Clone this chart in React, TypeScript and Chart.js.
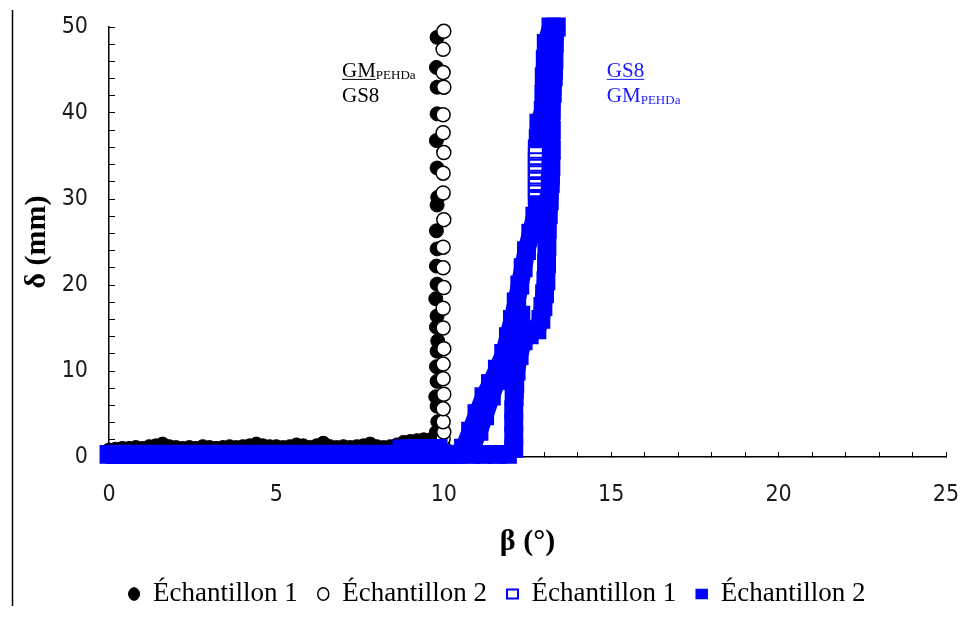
import React, { useEffect, useRef } from "react";
import { Chart, registerables } from "chart.js";

Chart.register(...registerables);

type Pt = [number, number];

// ---- axis ticks ----
const xTickLabels = [0, 5, 10, 15, 20, 25];
const yTickLabels = [0, 10, 20, 30, 40, 50];

// ---- legend labels ----
const seriesNames = ["Échantillon 1", "Échantillon 2", "Échantillon 1", "Échantillon 2"];

// ---- GM PEHDa / GS8 : Échantillon 1 (filled black circles) ----
const gmEch1Bottom: Pt[] = [
  [0.0, 0.8], [0.2, 0.9], [0.4, 1.0], [0.6, 1.0], [0.8, 1.1], [1.0, 1.0], [1.2, 1.2], [1.4, 1.3],
  [1.6, 1.5], [1.8, 1.2], [2.0, 1.1], [2.2, 1.0], [2.4, 1.1], [2.6, 1.0], [2.8, 1.2], [3.0, 1.1],
  [3.2, 1.0], [3.4, 1.1], [3.6, 1.2], [3.8, 1.1], [4.0, 1.2], [4.2, 1.3], [4.4, 1.5], [4.6, 1.3],
  [4.8, 1.2], [5.0, 1.2], [5.2, 1.1], [5.4, 1.2], [5.6, 1.4], [5.8, 1.3], [6.0, 1.1], [6.2, 1.3],
  [6.4, 1.6], [6.6, 1.2], [6.8, 1.1], [7.0, 1.2], [7.2, 1.1], [7.4, 1.2], [7.6, 1.3], [7.8, 1.5],
  [8.0, 1.2], [8.2, 1.1], [8.4, 1.2], [8.6, 1.4], [8.8, 1.7], [9.0, 1.8], [9.2, 1.9], [9.4, 2.0],
  [9.6, 2.0],
];
const gmEch1Column: Pt[] = [
  [9.8, 2.1], [9.78, 2.9], [9.82, 4.1], [9.8, 5.9], [9.76, 7.0], [9.8, 8.8], [9.78, 10.5], [9.8, 12.3],
  [9.82, 13.5], [9.78, 15.1], [9.8, 16.4], [9.76, 18.4], [9.8, 20.1], [9.78, 22.2], [9.8, 24.2],
  [9.78, 26.3], [9.8, 29.3], [9.82, 30.2], [9.8, 33.6], [9.78, 36.8], [9.8, 39.9], [9.8, 43.0],
  [9.78, 45.3], [9.8, 48.8],
];

// ---- GM PEHDa / GS8 : Échantillon 2 (open black circles) ----
const gmEch2Bottom: Pt[] = [
  [0.1, 0.3], [0.6, 0.4], [1.1, 0.3], [1.6, 0.4], [2.1, 0.3], [2.6, 0.3], [3.1, 0.4], [3.6, 0.3],
  [4.1, 0.3], [4.6, 0.4], [5.1, 0.3], [5.6, 0.3], [6.1, 0.4], [6.6, 0.3], [7.1, 0.3], [7.6, 0.4],
  [8.1, 0.3], [8.6, 0.4], [9.1, 0.4], [9.6, 0.5],
];
const gmEch2Column: Pt[] = [
  [9.98, 1.2], [9.98, 2.1], [10.0, 2.9], [9.98, 4.1], [9.98, 5.6], [10.0, 7.3], [9.98, 9.1],
  [9.98, 10.8], [10.0, 12.6], [9.98, 15.0], [9.98, 17.3], [10.0, 19.7], [9.98, 22.0], [9.98, 24.4],
  [10.0, 27.6], [9.98, 30.7], [9.98, 33.0], [10.0, 35.4], [9.98, 37.7], [9.98, 39.8], [10.0, 43.0],
  [9.98, 44.7], [9.98, 47.4], [10.0, 49.5],
];

// ---- GS8 / GM PEHDa : Échantillon 1 (open blue squares) ----
const gsEch1Band: Pt[] = [
  [0.2, 0.3], [0.7, 0.3], [1.2, 0.3], [1.7, 0.3], [2.2, 0.3], [2.7, 0.3], [3.2, 0.3], [3.7, 0.3],
  [4.2, 0.3], [4.7, 0.3], [5.2, 0.3], [5.7, 0.3], [6.2, 0.3], [6.7, 0.3], [7.2, 0.3], [7.7, 0.3],
  [8.2, 0.3], [8.7, 0.3], [9.2, 0.3], [9.7, 0.3], [10.2, 0.3],
];
const gsEch1Branch: Pt[] = [
  [10.6, 1.0], [11.0, 5.0], [11.4, 8.5], [11.8, 12.0], [12.17, 18.0], [12.62, 26.0],
];
const gsEch1Upper: Pt[] = [
  [12.8, 29.8], [12.8, 30.55], [12.8, 31.3], [12.8, 32.05], [12.8, 32.8], [12.8, 33.55],
  [12.8, 34.3], [12.8, 35.05], [12.8, 35.8],
];

// ---- GS8 / GM PEHDa : Échantillon 2 (filled blue squares) ----
const gsEch2Band: Pt[] = [
  [0.0, 0.3], [0.4, 0.3], [0.8, 0.3], [1.2, 0.3], [1.6, 0.3], [2.0, 0.3], [2.4, 0.3], [2.8, 0.3],
  [3.2, 0.3], [3.6, 0.3], [4.0, 0.3], [4.4, 0.3], [4.8, 0.3], [5.2, 0.3], [5.6, 0.3], [6.0, 0.3],
  [6.4, 0.3], [6.8, 0.3], [7.2, 0.3], [7.6, 0.3], [8.0, 0.3], [8.4, 0.3], [8.8, 0.3], [9.2, 0.3],
  [9.6, 0.3], [10.0, 0.3], [10.4, 0.3], [10.8, 0.3], [11.2, 0.3], [11.6, 0.3], [11.9, 0.3],
];
const gsEch2Raised: Pt[] = [[8.75, 0.95], [9.15, 1.0], [9.5, 1.0], [9.83, 1.0]];
const gsEch2LeftOuter: Pt[] = [
  [10.6, 1.0], [10.8, 3.0], [11.0, 5.0], [11.2, 7.0], [11.4, 8.5], [11.6, 10.2], [11.8, 12.0],
  [11.93, 14.0], [12.05, 16.0], [12.17, 18.0], [12.27, 20.0], [12.37, 22.0], [12.47, 24.0],
  [12.6, 26.0], [12.72, 28.0], [12.8, 29.3],
];
const gsEch2LeftInner: Pt[] = [
  [10.88, 1.6], [11.05, 3.0], [11.22, 4.8], [11.42, 7.1], [11.58, 8.9], [11.76, 10.6],
  [12.2, 14.5], [12.3, 16.5],
];
const gsEch2Right: Pt[] = [
  [12.09, 1.0], [12.09, 2.5], [12.09, 4.0], [12.09, 5.5], [12.1, 7.0], [12.12, 8.5], [12.16, 10.0],
  [12.25, 11.8], [12.37, 13.5], [12.55, 14.2], [12.78, 14.8], [12.9, 16.0], [12.96, 17.5],
  [13.01, 19.0], [13.05, 20.5], [13.07, 22.5], [13.08, 24.5], [13.09, 26.5], [13.12, 28.2],
  [13.15, 29.8], [13.18, 31.8], [13.2, 33.8], [13.21, 35.7], [13.21, 38.0], [13.21, 40.3],
  [13.24, 42.3], [13.27, 44.2], [13.29, 46.2], [13.3, 48.1], [13.36, 50.0],
];
const gsEch2UpperLeft: Pt[] = [
  [12.82, 37.0], [12.84, 38.8], [12.97, 40.3], [12.99, 42.2], [13.0, 44.2], [13.03, 46.2],
  [13.06, 48.1], [13.2, 50.0],
];

// ---- in-plot labels ----
const labelBlack = { x: 6.96, yTop: 44.2, yBottom: 41.3, first: ["GM", "PEHDa"], second: ["GS8", ""] };
const labelBlue = { x: 14.87, yTop: 44.2, yBottom: 41.3, first: ["GS8", ""], second: ["GM", "PEHDa"] };

const BLUE = "#0000ff";
const SERIF = '"Liberation Serif", "Times New Roman", serif';
const TICKFONT = '"Liberation Sans Narrow", "DejaVu Sans Condensed", "Liberation Sans", sans-serif';

const toXY = (...lists: Pt[][]) => lists.flat().map(([x, y]) => ({ x, y }));
// each list is one continuous trace; a gap point separates traces
const toTraces = (...lists: Pt[][]) =>
  lists.flatMap((l, i) => {
    const pts = l.map(([x, y]) => ({ x, y }) as any);
    return i === 0 ? pts : [{ x: NaN, y: null }, ...pts];
  });

const overlayPlugin = {
  id: "overlay",
  afterDraw(chart: any) {
    const { ctx, scales } = chart;
    const xs = scales.x;
    const ys = scales.y;
    ctx.save();
    // left frame line
    ctx.strokeStyle = "#000";
    ctx.lineWidth = 1.5;
    ctx.beginPath();
    ctx.moveTo(12.5, 10);
    ctx.lineTo(12.5, 606);
    ctx.stroke();

    const drawLine = (parts: string[], px: number, py: number, color: string, underline: boolean) => {
      ctx.fillStyle = color;
      ctx.strokeStyle = color;
      ctx.textBaseline = "alphabetic";
      ctx.textAlign = "left";
      ctx.font = `21px ${SERIF}`;
      ctx.fillText(parts[0], px, py);
      const w = ctx.measureText(parts[0]).width;
      if (underline) {
        ctx.lineWidth = 1;
        ctx.beginPath();
        ctx.moveTo(px, py + 2.5);
        ctx.lineTo(px + w, py + 2.5);
        ctx.stroke();
      }
      if (parts[1]) {
        ctx.font = `13px ${SERIF}`;
        ctx.fillText(parts[1], px + w, py + 2);
      }
    };
    for (const [lab, color] of [[labelBlack, "#000"], [labelBlue, "#1a1aff"]] as const) {
      const px = xs.getPixelForValue(lab.x);
      drawLine(lab.first, px, ys.getPixelForValue(lab.yTop), color, true);
      drawLine(lab.second, px, ys.getPixelForValue(lab.yBottom), color, false);
    }
    ctx.restore();
  },
};

export default function App() {
  const ref = useRef<HTMLCanvasElement | null>(null);
  useEffect(() => {
    if (!ref.current) return;
    const chart = new Chart(ref.current, {
      type: "scatter",
      data: {
        datasets: [
          {
            label: seriesNames[0],
            data: toXY(gmEch1Bottom, gmEch1Column),
            pointStyle: "circle",
            pointRadius: 7,
            backgroundColor: "#000",
            borderColor: "#000",
            borderWidth: 1,
            order: 4,
            clip: false,
          } as any,
          {
            label: seriesNames[1],
            data: toXY(gmEch2Bottom, gmEch2Column),
            pointStyle: "circle",
            pointRadius: 7,
            backgroundColor: "#fff",
            borderColor: "#000",
            borderWidth: 1.5,
            order: 3,
            clip: false,
          },
          {
            label: seriesNames[2],
            data: toXY(gsEch1Band, gsEch1Branch, gsEch1Upper),
            pointStyle: "rect",
            pointRadius: 12.3,
            backgroundColor: "rgba(0,0,0,0)",
            borderColor: BLUE,
            borderWidth: 2,
            order: 2,
            clip: false,
          },
          {
            type: "line",
            label: seriesNames[3],
            data: toTraces(gsEch2Band, gsEch2Raised, gsEch2LeftOuter, gsEch2LeftInner, gsEch2Right, gsEch2UpperLeft),
            showLine: true,
            spanGaps: false,
            fill: false,
            tension: 0,
            borderWidth: 18,
            borderColor: BLUE,
            borderCapStyle: "butt",
            borderJoinStyle: "round",
            pointStyle: "rect",
            pointRadius: 12.3,
            pointBackgroundColor: BLUE,
            pointBorderColor: BLUE,
            pointBorderWidth: 1.5,
            backgroundColor: BLUE,
            order: 1,
            clip: false,
          },
        ],
      },
      options: {
        animation: false,
        responsive: false,
        events: [],
        layout: { padding: { left: 48, right: 15, top: 27, bottom: 1.5 } },
        scales: {
          x: {
            type: "linear",
            min: 0,
            max: 25,
            ticks: {
              stepSize: 1,
              autoSkip: false,
              maxRotation: 0,
              padding: 29,
              color: "#1a1a1a",
              font: { family: TICKFONT, size: 23 },
              callback: (v: any) => (xTickLabels.includes(Number(v)) ? String(v) : ""),
            },
            grid: { display: true, drawOnChartArea: false, drawTicks: true, tickLength: -5, color: "#000", lineWidth: 1 },
            border: { display: true, color: "#000", width: 1.5 },
            title: {
              display: true,
              text: "β (°)",
              color: "#000",
              font: { family: SERIF, size: 30, weight: "bold" },
              padding: { top: 0, bottom: 0.5 },
            },
            afterFit: (s: any) => {
              s.height = 103.5;
              s.paddingLeft = 0;
              s.paddingRight = 0;
            },
          },
          y: {
            type: "linear",
            min: 0,
            max: 50,
            ticks: {
              stepSize: 2,
              autoSkip: false,
              padding: 27,
              color: "#1a1a1a",
              font: { family: TICKFONT, size: 23 },
              callback: (v: any) => (yTickLabels.includes(Number(v)) ? String(v) : ""),
            },
            grid: { display: true, drawOnChartArea: false, drawTicks: true, tickLength: -6, color: "#000", lineWidth: 1 },
            border: { display: true, color: "#000", width: 1.5 },
            title: {
              display: true,
              text: "δ (mm)",
              color: "#000",
              font: { family: SERIF, size: 30, weight: "bold" },
              padding: { top: -29, bottom: 0 },
            },
            afterFit: (s: any) => {
              s.width = 61;
              s.paddingTop = 0;
              s.paddingBottom = 0;
            },
          },
        },
        plugins: {
          tooltip: { enabled: false },
          legend: {
            position: "bottom",
            align: "center",
            labels: {
              usePointStyle: true,
              pointStyleWidth: 11,
              boxHeight: 9,
              padding: 20,
              color: "#000",
              font: { family: SERIF, size: 27 },
              sort: (a: any, b: any) => a.datasetIndex - b.datasetIndex,
            },
          },
        },
      } as any,
      plugins: [overlayPlugin],
    });
    return () => chart.destroy();
  }, []);
  return (
    <div style={{ position: "absolute", left: 0, top: 0, width: 961, height: 619, background: "#fff" }}>
      <canvas ref={ref} width={961} height={619} />
    </div>
  );
}
